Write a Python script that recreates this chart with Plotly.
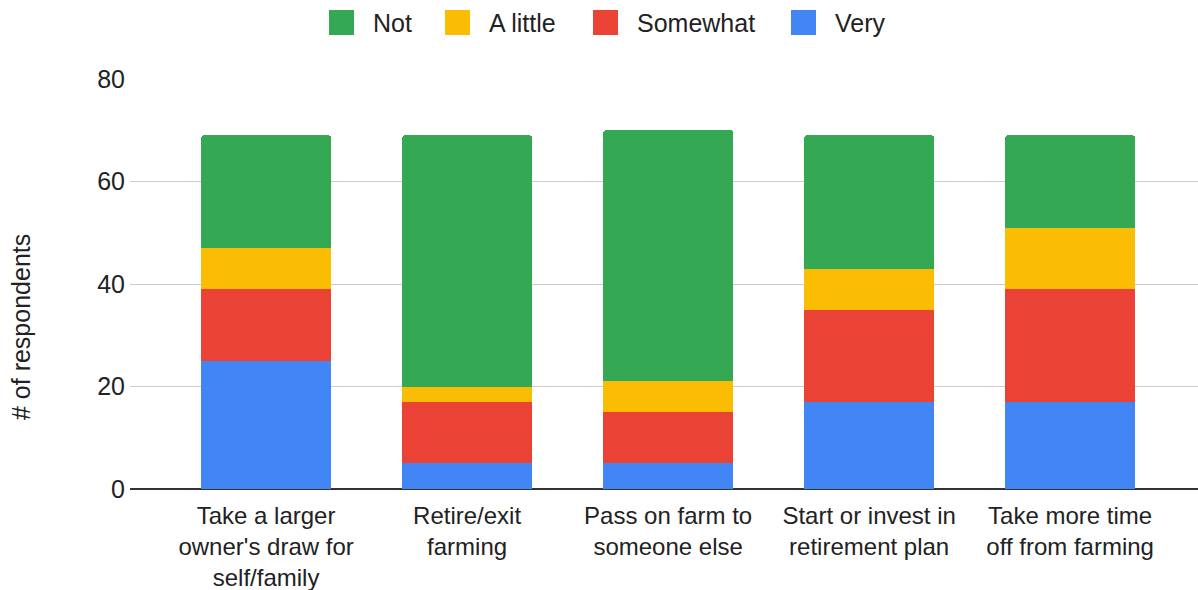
import plotly.graph_objects as go

categories = [
    "Take a larger<br>owner's draw for<br>self/family",
    "Retire/exit<br>farming",
    "Pass on farm to<br>someone else",
    "Start or invest in<br>retirement plan",
    "Take more time<br>off from farming",
]
very = [25, 5, 5, 17, 17]
somewhat = [14, 12, 10, 18, 22]
a_little = [8, 3, 6, 8, 12]
not_ = [22, 49, 49, 26, 18]

series = [
    ("Very", very, "#4285F4"),
    ("Somewhat", somewhat, "#EA4335"),
    ("A little", a_little, "#FBBC04"),
    ("Not", not_, "#34A853"),
]

# layout geometry (pixels)
W, H = 1198, 590
L, R, T, B = 130, 0, 79, 101
PW, PH = W - L - R, H - T - B

def px_x(px):
    return (px - L) / PW

def px_y(py):
    return (H - B - py) / PH

fig = go.Figure()
for name, vals, color in series:
    fig.add_trace(go.Bar(x=categories, y=vals, name=name, marker_color=color,
                         marker_line_width=0, width=0.647, showlegend=False))

# custom legend (legend order: Not, A little, Somewhat, Very)
legend_square_left = [329, 445, 593, 791]
sq = 25
for (name, vals, color), left in zip(series[::-1], legend_square_left):
    fig.add_shape(type="rect", xref="paper", yref="paper",
                  x0=px_x(left), x1=px_x(left + sq), y0=px_y(35), y1=px_y(10),
                  fillcolor=color, line_width=0, layer="above")
    fig.add_annotation(text=name, xref="paper", yref="paper",
                       x=px_x(left + sq + 17), y=px_y(22.5), xanchor="left", yanchor="middle",
                       showarrow=False, font=dict(size=25, color="#222222"))

# y axis title
fig.add_annotation(text="# of respondents", xref="paper", yref="paper",
                   x=px_x(21), y=px_y(327), textangle=-90, xanchor="center", yanchor="middle",
                   showarrow=False, font=dict(size=25, color="#222222"))

font = "Liberation Sans, Arial, sans-serif"
fig.update_layout(
    barmode="stack",
    barcornerradius=3,
    width=W, height=H,
    margin=dict(l=L, r=R, t=T, b=B),
    paper_bgcolor="white", plot_bgcolor="white",
    font=dict(family=font, size=25, color="#222222"),
    showlegend=False,
    xaxis=dict(range=[-0.677, 4.636], showgrid=False, tickfont=dict(size=24),
               ticks="", showline=False, automargin=False, ticklabelstandoff=10),
    yaxis=dict(range=[0, 80], dtick=20, gridcolor="#CCCCCC", gridwidth=1,
               zeroline=True, zerolinecolor="#333333", zerolinewidth=2,
               tickfont=dict(size=25), ticklabelstandoff=4, automargin=False),
)

fig.write_html("out.html")
